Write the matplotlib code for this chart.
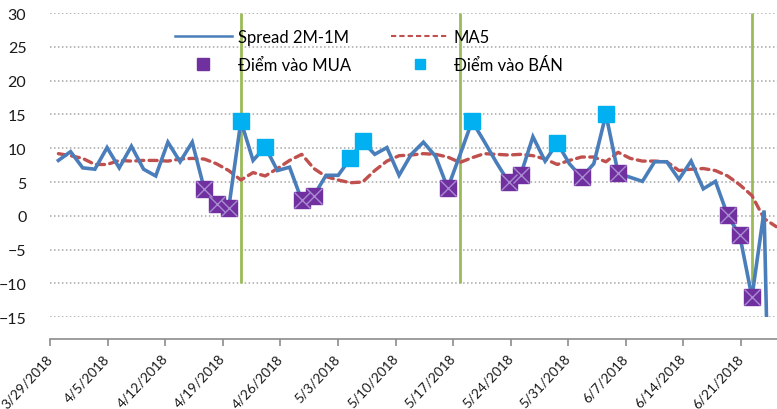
import numpy as np
import matplotlib
matplotlib.use("Agg")
import matplotlib.pyplot as plt
from matplotlib.lines import Line2D

plt.rcParams['font.family'] = ['Lato', 'DejaVu Sans']

# spread 2M-1M, one value per trading session
spread = [8.2, 9.5, 7.1, 6.9, 10.1, 7.1, 10.3, 6.9, 5.9, 10.9,
          8.0, 10.9, 3.9, 1.7, 1.2, 14.0, 8.2, 10.2, 6.7, 7.2,
          2.3, 3.0, 6.0, 6.0, 8.5, 11.0, 9.1, 10.1, 6.0, 9.1,
          10.9, 8.8, 4.1, 9.0, 14.0, 11.0, 7.9, 5.0, 6.1, 11.7,
          8.1, 10.8, 7.7, 5.7, 7.7, 15.0, 6.3, 5.7, 5.1, 8.0,
          8.0, 5.4, 8.1, 4.0, 5.1, 0.1, -2.9, -12.0, 0.8, -80.0]
ma5 = [9.2, 8.9, 8.5, 7.6, 7.6, 8.2, 8.1, 8.2, 8.2, 8.1,
       8.4, 8.5, 8.4, 7.7, 6.7, 5.3, 6.4, 5.9, 7.0, 8.2,
       9.1, 7.0, 5.8, 5.3, 4.9, 5.0, 6.7, 8.1, 8.9, 9.0,
       9.2, 9.1, 8.7, 7.9, 8.6, 9.2, 9.1, 9.0, 9.1, 8.9,
       8.4, 7.6, 8.2, 8.7, 8.7, 8.0, 9.4, 8.5, 8.1, 8.1,
       8.0, 6.7, 6.9, 7.0, 6.7, 5.9, 4.6, 3.0, -0.4, -1.6]
buy_idx = [12, 13, 14, 20, 21, 32, 37, 38, 43, 46, 55, 56, 57]
sell_idx = [15, 17, 24, 25, 34, 41, 45]
signal_idx = [15, 33, 57]   # green vertical lines
signal_lo, signal_hi = -10, 30

date_labels = ['3/29/2018', '4/5/2018', '4/12/2018', '4/19/2018', '4/26/2018',
               '5/3/2018', '5/10/2018', '5/17/2018', '5/24/2018', '5/31/2018',
               '6/7/2018', '6/14/2018', '6/21/2018']

x = np.arange(len(spread))
spread = np.array(spread)

fig = plt.figure(figsize=(7.77, 4.10), dpi=100)
ax = fig.add_axes([50/777, (410-318.3)/410, 727/777, 304.3/410])

for v in range(-15, 31, 5):
    ax.axhline(v, color='#a6a6a6', lw=1.1, ls=(0, (1, 1.6)), zorder=0)

ax.vlines(signal_idx, signal_lo, signal_hi, color='#9bbb59', lw=2, zorder=1)

ax.plot(x, spread, color='#4a7ebb', lw=2.6, zorder=3, solid_joinstyle='miter')
ax.plot(x, ma5, color='#c0504d', lw=2.4, ls=(0, (2.4, 1.6)),
        dash_capstyle='round', zorder=2)

ax.plot(x[buy_idx], spread[buy_idx], 's', ms=11.5, color='#7030a0', zorder=4)
ax.plot(x[buy_idx], spread[buy_idx], 'x', ms=11.5, mew=1, color='#a88bd0', zorder=5)
ax.plot(x[sell_idx], spread[sell_idx], 's', ms=11.5, color='#00b0f0', zorder=4)

ax.set_ylim(-15, 30)
ax.set_xlim(-0.69, 59.06)
ax.set_yticks(range(-15, 31, 5))
ax.tick_params(axis='y', length=0, pad=17, labelsize=11.5, labelcolor='#1a1a1a')
ax.xaxis.set_visible(False)
for s in ['top', 'right', 'left', 'bottom']:
    ax.spines[s].set_visible(False)

# visible date axis (calendar days from 3/29)
k = 12.17 / 57.58 * 7
d0 = 8.3 / 57.58 * 7
sec = ax.secondary_xaxis(-22/304.3, functions=(lambda i: d0 + k*i, lambda d: (d - d0)/k))
sec.set_xticks(np.arange(len(date_labels)) * 7)
sec.set_xticklabels(date_labels, rotation=47, ha='right', va='center',
                    rotation_mode='anchor', fontsize=9.8, color='#1a1a1a')
sec.tick_params(axis='x', length=5, width=1.2, color='#8c8c8c', pad=7)
sec.spines['bottom'].set_color('#8c8c8c')
sec.spines['bottom'].set_linewidth(1.2)

handles = [
    Line2D([], [], color='#4a7ebb', lw=1.8),
    Line2D([], [], ls='none', marker='s', ms=8, color='#7030a0'),
    Line2D([], [], color='#c0504d', lw=1.5, ls=(0, (2.5, 1.5))),
    Line2D([], [], ls='none', marker='s', ms=6.5, color='#00b0f0'),
]
labels = ['Spread 2M-1M', 'Điểm vào MUA', 'MA5', 'Điểm vào BÁN']
fig.legend(handles, labels, ncol=2, frameon=False, loc='upper left',
           bbox_to_anchor=(175/777, 1 - 30/410), borderpad=0, borderaxespad=0,
           handlelength=3.4, handletextpad=0.35, columnspacing=2.45,
           labelspacing=0.72, fontsize=12)

fig.savefig('out.png', dpi=100)
